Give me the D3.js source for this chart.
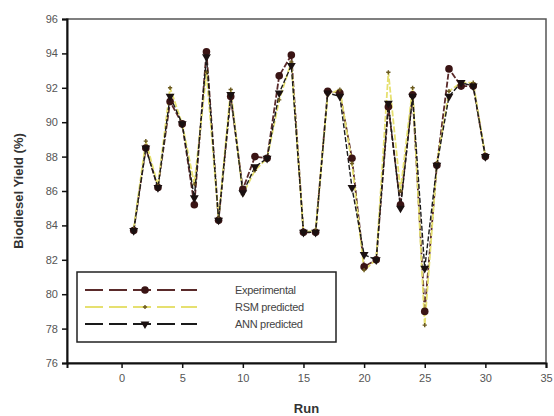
<!DOCTYPE html>
<html><head><meta charset="utf-8">
<script src="https://cdn.jsdelivr.net/npm/d3@7/dist/d3.min.js"></script>
<style>body{margin:0;background:#fff}svg{display:block}</style>
</head><body>
<script>
const runs = [1,2,3,4,5,6,7,8,9,10,11,12,13,14,15,16,17,18,19,20,21,22,23,24,25,26,27,28,29,30];
const experimental = [83.7,88.5,86.2,91.2,89.9,85.2,94.1,84.3,91.5,86.1,88.0,87.9,92.7,93.9,83.6,83.6,91.8,91.7,87.9,81.6,82.0,90.9,85.2,91.6,79.0,87.5,93.1,92.1,92.1,88.0];
const rsmPredicted = [83.8,88.9,86.3,92.0,89.9,86.4,92.9,84.4,91.9,85.8,87.2,87.9,91.3,93.5,83.6,83.7,91.6,91.9,87.6,81.4,82.0,92.9,86.0,92.0,78.2,87.6,91.8,92.3,92.3,88.0];
const annPredicted = [83.7,88.5,86.2,91.5,89.9,85.6,93.8,84.3,91.6,85.9,87.4,87.9,91.7,93.3,83.6,83.6,91.7,91.5,86.2,82.3,82.0,91.1,85.0,91.5,81.5,87.5,91.5,92.3,92.1,88.0];
const xTicks = [0,5,10,15,20,25,30,35];
const yTicks = [76,78,80,82,84,86,88,90,92,94,96];
const seriesNames = ["Experimental","RSM predicted","ANN predicted"];

const W = 554, H = 416;
const m = {l:67, t:19, r:554-546, b:416-363};
const svg = d3.select("body").append("svg").attr("width",W).attr("height",H);
const x = d3.scaleLinear().domain([-4.5,35]).range([m.l, W-m.r]);
const y = d3.scaleLinear().domain([76,96]).range([H-m.b, m.t]);

// frame
svg.append("rect").attr("x",m.l).attr("y",m.t).attr("width",x(35)-m.l).attr("height",y(76)-m.t)
  .attr("fill","none").attr("stroke","#555").attr("stroke-width",1.5);

const font = "Arial, 'Liberation Sans', sans-serif";
const yAxis = svg.append("g").attr("transform",`translate(${m.l},0)`)
  .call(d3.axisLeft(y).tickValues(yTicks).tickSize(5).tickPadding(4).tickFormat(d3.format("d")));
const xAxis = svg.append("g").attr("transform",`translate(0,${y(76)})`)
  .call(d3.axisBottom(x).tickValues(xTicks).tickSize(5).tickPadding(6).tickFormat(d3.format("d")));
[yAxis,xAxis].forEach(g=>{
  g.select(".domain").attr("stroke","#111").attr("stroke-width",2);
  g.selectAll(".tick line").attr("stroke","#111").attr("stroke-width",1.5);
  g.selectAll("text").attr("font-family",font).attr("font-size",11).attr("fill","#555");
});

const series = [
  {name:seriesNames[0], vals:experimental, color:"#5a2a2a", dash:"6,2", width:1.8, marker:"circle"},
  {name:seriesNames[1], vals:rsmPredicted, color:"#e6e070", dash:"6,2", width:1.8, marker:"small"},
  {name:seriesNames[2], vals:annPredicted, color:"#1a1a1a", dash:"5,2", width:1.4, marker:"tri"}
];
const line = d3.line().x(d=>x(d[0])).y(d=>y(d[1]));
function drawMarker(g, type, cx, cy){
  if(type==="circle") g.append("circle").attr("cx",cx).attr("cy",cy).attr("r",3.8).attr("fill","#3a1414");
  else if(type==="tri") g.append("path").attr("d",d3.symbol(d3.symbolTriangle,34)()).attr("transform",`translate(${cx},${cy}) rotate(180)`).attr("fill","#1a1010");
  else g.append("path").attr("d",d3.symbol(d3.symbolCross,10)()).attr("transform",`translate(${cx},${cy})`).attr("fill","#6b5a20");
}
series.forEach(s=>{
  const pts = runs.map((r,i)=>[r,s.vals[i]]);
  svg.append("path").attr("d",line(pts)).attr("fill","none").attr("stroke",s.color)
    .attr("stroke-width",s.width).attr("stroke-dasharray",s.dash);
});
series.forEach(s=>{
  const g = svg.append("g");
  runs.forEach((r,i)=>drawMarker(g,s.marker,x(r),y(s.vals[i])));
});

// legend
const lg = svg.append("g");
lg.append("rect").attr("x",77).attr("y",272).attr("width",259).attr("height",70)
  .attr("fill","#fff").attr("stroke","#222").attr("stroke-width",1.5);
series.forEach((s,i)=>{
  const yy = 290 + i*17;
  lg.append("line").attr("x1",85).attr("x2",197).attr("y1",yy).attr("y2",yy)
    .attr("stroke",s.color).attr("stroke-width",1.8).attr("stroke-dasharray","18,6,18,6,0,0");
  drawMarker(lg,s.marker,145,yy);
  lg.append("text").attr("x",235).attr("y",yy+4).text(s.name)
    .attr("font-family",font).attr("font-size",11).attr("fill","#444").attr("letter-spacing",-0.3);
});

svg.append("text").attr("transform",`translate(23,${(m.t+y(76))/2}) rotate(-90)`)
  .attr("text-anchor","middle").attr("font-family",font).attr("font-size",13).attr("font-weight","bold").attr("fill","#333")
  .text("Biodiesel Yield (%)");
svg.append("text").attr("x",(m.l+x(35))/2).attr("y",413).attr("text-anchor","middle")
  .attr("font-family",font).attr("font-size",13).attr("font-weight","bold").attr("fill","#333").text("Run");
</script>
</body></html>
